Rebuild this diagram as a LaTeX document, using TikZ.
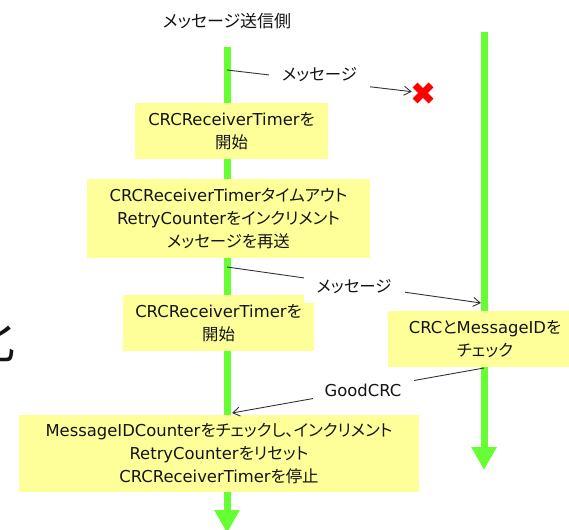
\documentclass[tikz,border=0pt]{standalone}
\usepackage{fontspec}
\setmainfont{DejaVu Sans}
\newfontfamily\jp[RawFeature=+palt]{Noto Sans CJK JP}
\usetikzlibrary{arrows.meta}
\definecolor{lifeGreen}{RGB}{102,255,51}
\definecolor{actYellow}{RGB}{255,255,153}
\definecolor{lostRed}{RGB}{255,0,0}
\newcommand{\ja}[1]{{\jp #1}}
\newcommand{\actfont}{\fontsize{16.4}{23}\selectfont}

\begin{document}
\begin{tikzpicture}[
  x=1pt, y=-1pt,
  life/.style={draw=lifeGreen, line width=7pt, -{Triangle[width=24pt,length=23pt]}},
  act/.style={fill=actYellow, align=center, inner sep=0pt, font=\actfont, text=black!92},
  msg/.style={draw=black!80, line width=0.9pt, -{Straight Barb[length=7pt,width=9pt]}},
  msglab/.style={fill=white, inner sep=0pt, minimum width=101pt, minimum height=31pt,
                 font=\actfont, text=black!92},
  cross/.style={draw=lostRed, line width=7pt},
]
\useasboundingbox (0,0) rectangle (569,529);
\clip (0,0) rectangle (569,529);

% lifelines: sender on the left, receiver on the right
\node[font=\fontsize{17}{20}\selectfont, text=black!92] (sender) at (227,21) {\ja{メッセージ送信側}};
\node[anchor=east, inner sep=0pt, font=\jp\fontsize{50}{50}\selectfont, text=black!92] (cut) at (16,340) {化};
\coordinate (sndTop) at (227,47);
\coordinate (sndBot) at (227,533);
\coordinate (rcvTop) at (484,32);
\coordinate (rcvBot) at (484,470);
\draw[life] (sndTop) -- (sndBot);
\draw[life] (rcvTop) -- (rcvBot);

% activity boxes
\node[act, minimum width=193pt, minimum height=56pt] (timerA) at (231.5,131)
  {CRCReceiverTimer\ja{を}\\\ja{開始}};
\node[act, minimum width=283pt, minimum height=79pt] (retry) at (228.5,218.5)
  {CRCReceiverTimer\ja{タイムアウト}\\RetryCounter\ja{をインクリメント}\\\ja{メッセージを再送}};
\node[act, minimum width=191pt, minimum height=56pt] (timerB) at (218.5,323)
  {CRCReceiverTimer\ja{を}\\\ja{開始}};
\node[act, minimum width=194pt, minimum height=56pt] (check) at (485,339)
  {CRC\ja{と}MessageID\ja{を}\\\ja{チェック}};
\node[act, minimum width=400pt, minimum height=77pt] (done) at (219,453.5)
  {MessageIDCounter\ja{をチェックし、インクリメント}\\RetryCounter\ja{をリセット}\\CRCReceiverTimer\ja{を停止}};

% messages
\coordinate (m1s) at (227,70);
\node[minimum size=22pt, inner sep=0pt] (lost) at (423,93) {};
\draw[cross] ([shift={(-8,-8)}]lost.center) -- ([shift={(8,8)}]lost.center);
\draw[cross] ([shift={(-8,8)}]lost.center) -- ([shift={(8,-8)}]lost.center);
\draw[msg] (m1s) -- node[msglab, yshift=6pt] (lab1) {\ja{メッセージ}} (lost);

\coordinate (m2s) at (227,267);
\coordinate (m2e) at (481,303);
\draw[msg] (m2s) -- node[msglab, yshift=-2pt] (lab2) {\ja{メッセージ}} (m2e);

\coordinate (m3s) at (484,368);
\coordinate (m3e) at (232,413);
\draw[msg] (m3s) -- node[msglab, pos=0.48, yshift=-1pt] (lab3) {GoodCRC} (m3e);
\end{tikzpicture}
\end{document}
